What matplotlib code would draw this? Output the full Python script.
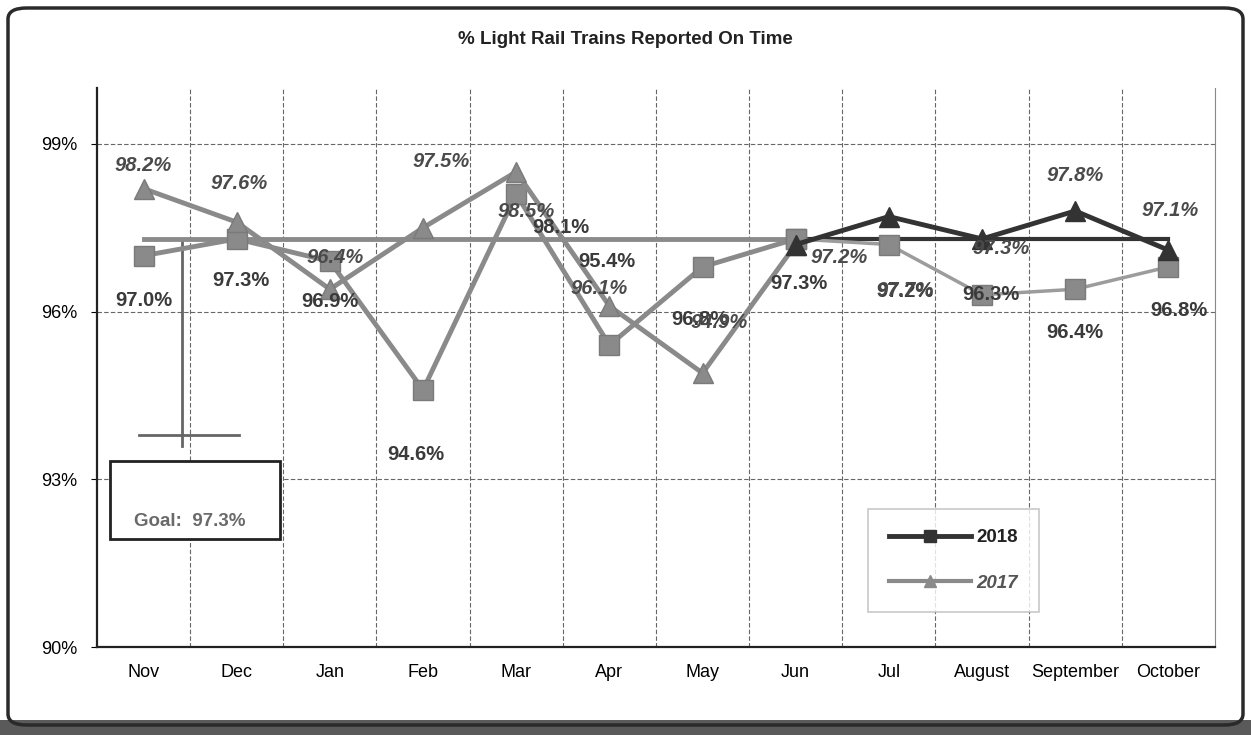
import matplotlib.pyplot as plt
from matplotlib.patches import FancyBboxPatch, Rectangle
from matplotlib.lines import Line2D

plt.rcParams['font.family'] = ['Liberation Sans', 'DejaVu Sans']

# ===== Data =====
months = ["Nov", "Dec", "Jan", "Feb", "Mar", "Apr", "May", "Jun",
          "Jul", "August", "September", "October"]
y2018 = [97.0, 97.3, 96.9, 94.6, 98.1, 95.4, 96.8, 97.3, 97.2, 96.3, 96.4, 96.8]
y2017 = [98.2, 97.6, 96.4, 97.5, 98.5, 96.1, 94.9, 97.2, 97.7, 97.3, 97.8, 97.1]
goal = 97.3
yticks = [90, 93, 96, 99]

# label offsets in pixels (dx, dy)
off2018 = [(0, -45), (4, -42), (0, -40), (-7, -65), (45, -33), (-3, 84),
           (-3, -53), (3, -45), (16, -47), (9, 0), (0, -43), (10, -44)]
off2017 = [(0, 23), (2, 39), (5, 32), (18, 66), (10, -40), (-10, 18),
           (17, 51), (43, -13), (16, -74), (19, -10), (0, 35), (2, 40)]

GRAY = "#8a8a8a"
LIGHT = "#9c9c9c"
DARK = "#333333"

fig = plt.figure(figsize=(12.51, 7.35), dpi=100)
ax = fig.add_axes([0.0775, 0.1197, 0.8937, 0.7606])
x = list(range(len(months)))
split = 7  # Jun: scan gets darker on the right half

# goal line
ax.plot(x[:split + 1], [goal] * (split + 1), color=GRAY, lw=3.5, zorder=3)
ax.plot(x[split:], [goal] * (len(x) - split), color=DARK, lw=3, zorder=3)

# 2018 series (squares)
ax.plot(x[:split + 1], y2018[:split + 1], color=GRAY, lw=3.5, marker="s",
        ms=14, mfc=GRAY, mec="#7a7a7a", zorder=4)
ax.plot(x[split:], y2018[split:], color=LIGHT, lw=2.5, marker="s",
        ms=14, mfc=GRAY, mec="#7a7a7a", zorder=4)

# 2017 series (triangles)
ax.plot(x[:split + 1], y2017[:split + 1], color=GRAY, lw=3.5, marker="^",
        ms=15, mfc=GRAY, mec="#7a7a7a", zorder=5)
ax.plot(x[split:], y2017[split:], color=DARK, lw=3.5, marker="^",
        ms=15, mfc=DARK, mec=DARK, zorder=5)

# data labels
for i in x:
    ax.annotate(f"{y2018[i]:.1f}%", (i, y2018[i]), xytext=off2018[i],
                textcoords="offset pixels", ha="center", va="center",
                fontsize=14.5, fontweight="bold", color="#3a3a3a", zorder=6)
    ax.annotate(f"{y2017[i]:.1f}%", (i, y2017[i]), xytext=off2017[i],
                textcoords="offset pixels", ha="center", va="center",
                fontsize=14.5, fontweight="bold", fontstyle="italic",
                color="#4a4a4a", zorder=6)

# goal callout
ax.plot([0.41, 0.41], [goal, 93.6], color="#666666", lw=2, zorder=2)
ax.plot([-0.05, 1.02], [93.79, 93.79], color="#666666", lw=2, zorder=2)
ax.add_patch(Rectangle((-0.365, 91.93), 1.825, 1.39, fill=True, fc="white",
                       ec="#222222", lw=2, zorder=6))
ax.text(0.50, 92.25, f"Goal:  {goal}%", ha="center", va="center",
        fontsize=13.5, fontweight="bold", color="#6a6a6a", zorder=7)

# axes styling
ax.set_xlim(-0.5, 11.5)
ax.set_ylim(90, 100)
ax.set_yticks(yticks)
ax.set_yticklabels([f"{t}%" for t in yticks], fontsize=13)
ax.set_xticks(x)
ax.set_xticklabels(months, fontsize=13)
ax.set_xticks([i + 0.5 for i in x[:-1]], minor=True)
ax.tick_params(axis="x", which="both", length=0, pad=12)
ax.tick_params(axis="y", length=4, pad=10)
ax.grid(True, axis="y", which="major", color="#666666", ls=(0, (4, 2)), lw=0.8)
ax.grid(True, axis="x", which="minor", color="#666666", ls=(0, (4, 2)), lw=0.8)
for s in ["left", "bottom"]:
    ax.spines[s].set_color("#222222")
    ax.spines[s].set_linewidth(1.6)
ax.spines["right"].set_color("#888888")
ax.spines["top"].set_visible(False)

# legend
handles = [Line2D([], [], color=DARK, lw=3.5, marker="s", ms=9, mfc=DARK),
           Line2D([], [], color=GRAY, lw=3, marker="^", ms=9, mfc=GRAY)]
leg = fig.legend(handles, ["2018", "2017"], loc="center",
                 bbox_to_anchor=(953.5 / 1251, 1 - 560.5 / 735),
                 frameon=True, fancybox=False, edgecolor="#bbbbbb",
                 handlelength=4.4, labelspacing=1.5, borderpad=1.1,
                 borderaxespad=0, handletextpad=0.3,
                 prop={"size": 13.5, "weight": "bold"})
leg.get_frame().set_linewidth(1.2)
leg.texts[0].set_color("#222222")
leg.texts[1].set_color("#555555")
leg.texts[1].set_fontstyle("italic")

# title
fig.text(0.5, 1 - 40 / 735, "% Light Rail Trains Reported On Time",
         ha="center", va="center", fontsize=13.5, fontweight="bold", color="#222222")

# outer frame
fig.patches.append(Rectangle((0, 0), 1, 15 / 735, transform=fig.transFigure,
                             fc="#5a5a5a", ec="none", zorder=0))
fig.patches.append(FancyBboxPatch((8 / 1251, 10 / 735), 1235 / 1251, 717 / 735,
                                  boxstyle="round,pad=0,rounding_size=0.015",
                                  transform=fig.transFigure, fc="none",
                                  ec="#2a2a2a", lw=2.5, zorder=1))

fig.savefig("out.png", dpi=100)
